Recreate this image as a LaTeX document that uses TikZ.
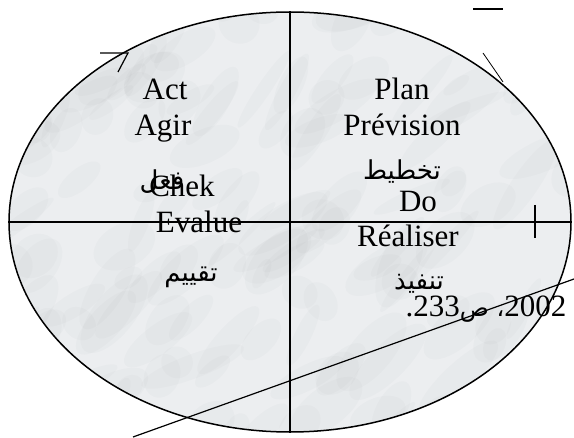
\documentclass[tikz,border=0pt]{standalone}
\usepackage{fontspec}
\setmainfont{Liberation Serif}
\newfontfamily\arabicfont[Script=Arabic]{DejaVu Sans}
\TeXXeTstate=1
\usetikzlibrary{shapes.geometric}
\definecolor{marble}{RGB}{236,238,240}
\definecolor{vein}{RGB}{120,126,132}
\tikzset{
    cyclebox/.style={ellipse, fill=marble, draw=black, line width=1.5pt,
        minimum width=562pt, minimum height=420pt, inner sep=0pt},
    word/.style={anchor=base, inner sep=0pt, font=\fontsize{31}{36}\selectfont},
    arword/.style={anchor=base, inner sep=0pt, font=\fontsize{26}{30}\selectfont\arabicfont},
    rule/.style={line width=1.2pt}
}

\begin{document}
\begin{tikzpicture}[x=1pt, y=-1pt]
\useasboundingbox (0,0) rectangle (574,438);
\node[cyclebox] (cycle) at (290,222) {};
% marble texture
\begin{scope}
\clip (290,222) ellipse [x radius=280, y radius=209];
\pgfmathsetseed{11}
\foreach \i in {1,...,170}{
    \pgfmathsetmacro\px{rnd*574}
    \pgfmathsetmacro\py{rnd*438}
    \pgfmathsetmacro\rx{15+rnd*40}
    \pgfmathsetmacro\ry{6+rnd*16}
    \pgfmathsetmacro\ang{20+rnd*50}
    \fill[vein, opacity=0.035, rotate around={\ang:(\px,\py)}] (\px,\py) ellipse [x radius=\rx, y radius=\ry];
}
\end{scope}
\draw[rule] (cycle.north) -- (cycle.south);
\draw[rule] (cycle.west) -- (cycle.east);

% stray strokes
\coordinate (tail) at (100,53);
\coordinate (tip) at (128,53);
\coordinate (barb) at (118,72);
\coordinate (dashL) at (473,9);
\coordinate (dashR) at (503,9);
\coordinate (slashA) at (483,53);
\coordinate (slashB) at (503,82);
\coordinate (tickA) at (535,205);
\coordinate (tickB) at (535,238);
\coordinate (diagA) at (133,437);
\coordinate (diagB) at (574,279);
\draw[rule] (tail) -- (tip) -- (barb);
\draw[rule] (dashL) -- (dashR);
\draw[rule, line width=0.8pt] (slashA) -- (slashB);
\draw[rule] (tickA) -- (tickB);
\draw[rule] (diagA) -- (diagB);

% left half
\node[word] (act) at (165,100) {Act};
\node[word] (agir) at (163,136) {Agir};
\node[arword] (fial) at (162,190) {\beginR فعل\endR};
\node[word] (chek) at (182,197) {Chek};
\node[word] (evalue) at (199,233) {Evalue};
\node[arword] (taqyim) at (191,282) {\beginR تقييم\endR};

% right half
\node[word] (plan) at (402,100) {Plan};
\node[word] (prevision) at (402,136) {Prévision};
\node[arword] (takhtit) at (402,180) {\beginR تخطيط\endR};
\node[word] (do) at (418,212) {Do};
\node[word] (realiser) at (408,247) {Réaliser};
\node[arword] (tanfidh) at (419,290) {\beginR تنفيذ\endR};
\node[word] (source) at (486,317) {\beginR\beginL 2002\endL{\arabicfont\fontsize{24}{28}\selectfont ، ص}\beginL 233\endL.\endR};
\end{tikzpicture}
\end{document}
